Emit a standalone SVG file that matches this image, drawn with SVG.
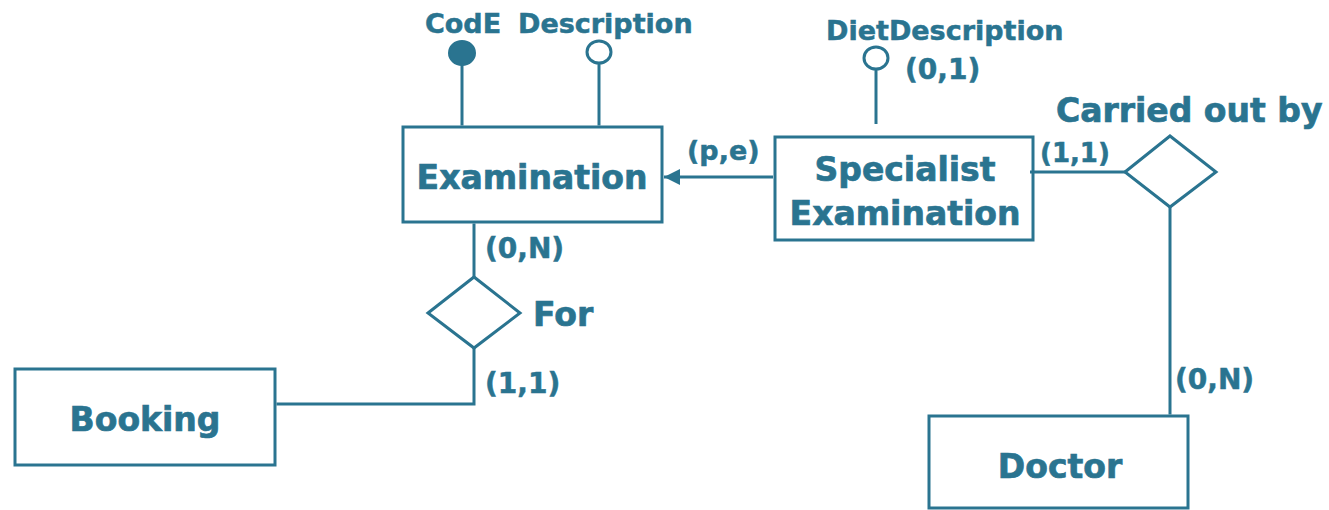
<svg xmlns="http://www.w3.org/2000/svg" width="1329" height="510" viewBox="0 0 1329 510">
  <style>
    .shape { fill: #ffffff; stroke: #2a7490; stroke-width: 3; }
    .line { fill: none; stroke: #2a7490; stroke-width: 3; }
    text { font-family: "DejaVu Sans", Verdana, sans-serif; font-weight: bold; fill: #2a7490; stroke: #2a7490; stroke-width: 0.7; }
    .name { font-size: 33px; text-anchor: middle; }
    .rel { font-size: 33px; }
    .attr { font-size: 27px; stroke-width: 0.5; }
    .card { font-size: 28px; stroke-width: 0.5; }
  </style>
  <defs>
    <marker id="arrow" viewBox="0 0 16 16" refX="16" refY="8" markerWidth="16" markerHeight="16" markerUnits="userSpaceOnUse" orient="auto">
      <path d="M0,0 L16,8 L0,16 Z" fill="#2a7490"/>
    </marker>
  </defs>

  <!-- Examination entity with its attributes -->
  <g id="examination">
    <rect class="shape" x="403" y="127" width="259" height="95"/>
    <text class="name" x="532" y="189">Examination</text>
  </g>
  <g id="attr-code">
    <ellipse cx="462" cy="53" rx="13" ry="12" fill="#2a7490" stroke="#2a7490" stroke-width="2"/>
    <text class="attr" x="425" y="33">CodE</text>
  </g>
  <g id="attr-description">
    <ellipse class="shape" cx="599" cy="52" rx="12" ry="11"/>
    <text class="attr" x="518" y="33">Description</text>
  </g>

  <!-- Specialist Examination entity -->
  <g id="specialist-examination">
    <rect class="shape" x="775" y="137" width="258" height="103"/>
    <text class="name" x="905" y="181">Specialist</text>
    <text class="name" x="905" y="225">Examination</text>
  </g>
  <g id="attr-diet-description">
    <ellipse class="shape" cx="876" cy="58" rx="12" ry="11"/>
    <text class="attr" x="826" y="40">DietDescription</text>
    <text class="card" x="905" y="79">(0,1)</text>
  </g>

  <!-- relationship: Carried out by -->
  <g id="carried-out-by">
    <polygon class="shape" points="1125,172 1170,136 1216,172 1170,207"/>
    <text class="rel" x="1056" y="122">Carried out by</text>
  </g>

  <!-- relationship: For -->
  <g id="for">
    <polygon class="shape" points="428,313 474,277 520,313 474,348"/>
    <text class="rel" x="533" y="326">For</text>
  </g>

  <!-- Booking entity -->
  <g id="booking">
    <rect class="shape" x="15" y="369" width="260" height="96"/>
    <text class="name" x="145" y="431">Booking</text>
  </g>

  <!-- Doctor entity -->
  <g id="doctor">
    <rect class="shape" x="929" y="416" width="259" height="92"/>
    <text class="name" x="1060" y="478">Doctor</text>
  </g>

  <!-- connectors, drawn on top so the arrowhead touches the entity border -->
  <g id="connectors">
    <line class="line" x1="462" y1="64" x2="462" y2="125.5"/>
    <line class="line" x1="599" y1="63" x2="599" y2="125.5"/>
    <line class="line" x1="876" y1="69" x2="876" y2="124"/>
    <line class="line" x1="773" y1="177" x2="664" y2="177" marker-end="url(#arrow)"/>
    <line class="line" x1="474" y1="223.5" x2="474" y2="277"/>
    <polyline class="line" points="474,348 474,404 276.5,404"/>
    <line class="line" x1="1030" y1="172" x2="1125" y2="172"/>
    <line class="line" x1="1170" y1="207" x2="1170" y2="414.5"/>
    <text class="card" x="687" y="160" style="font-size:27px">(p,e)</text>
    <text class="card" x="485" y="258">(0,N)</text>
    <text class="card" x="485" y="393">(1,1)</text>
    <text class="card" x="1040" y="162" style="font-size:26px">(1,1)</text>
    <text class="card" x="1175" y="389">(0,N)</text>
  </g>
</svg>
